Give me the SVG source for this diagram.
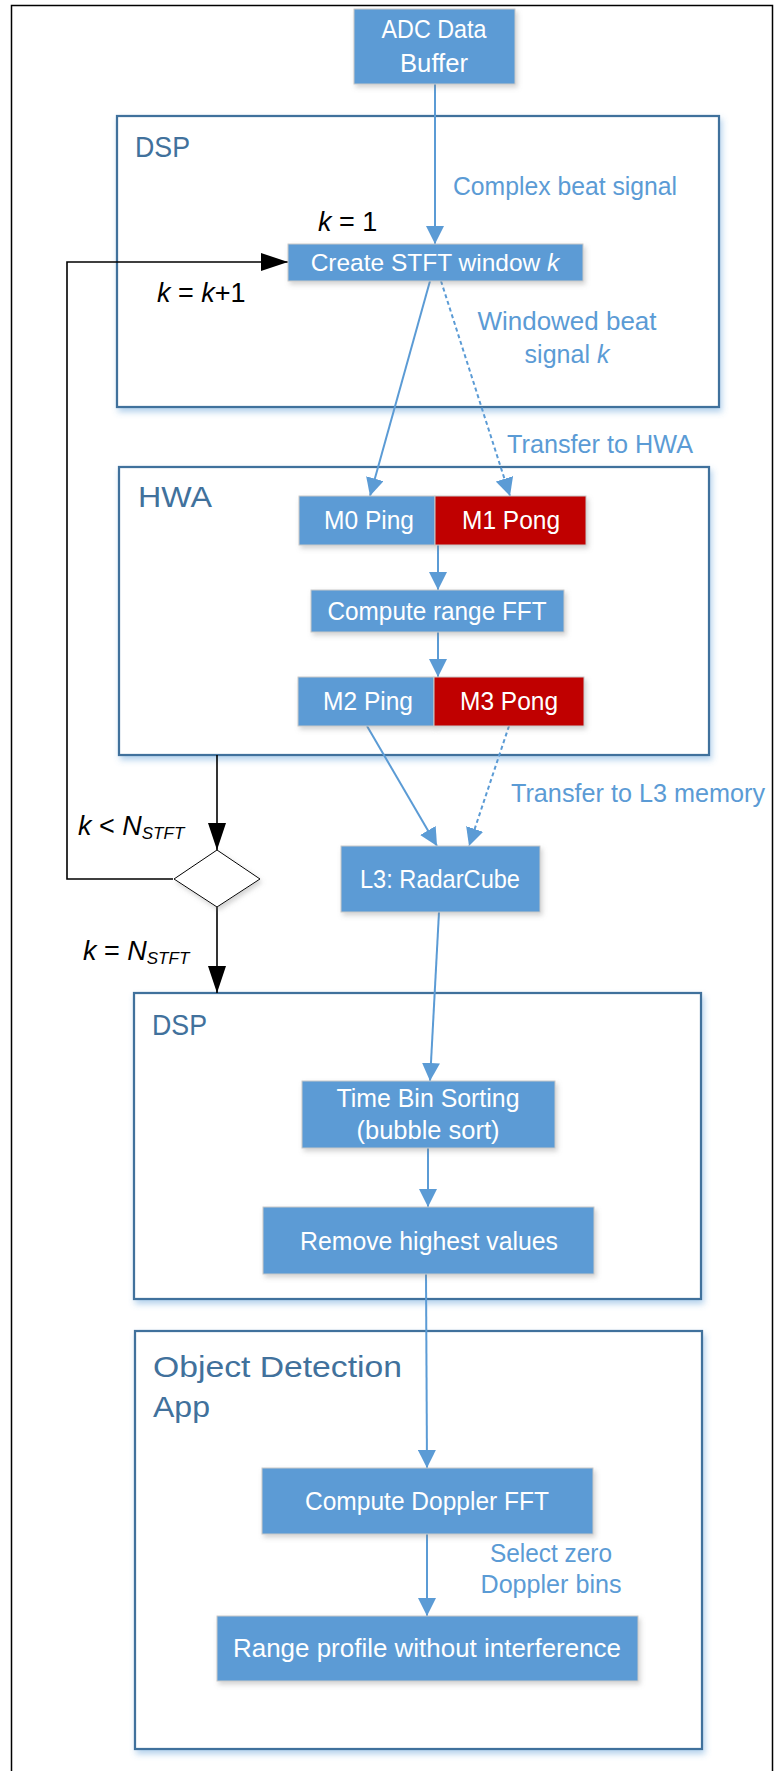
<svg xmlns="http://www.w3.org/2000/svg" width="774" height="1771" viewBox="0 0 774 1771">
<defs>
<style>
.cont{fill:#fff;stroke:#41719C;stroke-width:2.25;filter:url(#cs)}
.title{font-family:"Liberation Sans",Arial,sans-serif;font-size:30px;fill:#41719C}
.box{fill:#5B9BD5;stroke:#C9C9C9;stroke-width:1;filter:url(#ns)}
.red{fill:#C00000;stroke:#C9C9C9;stroke-width:1;filter:url(#ns)}
.bt{font-family:"Liberation Sans",Arial,sans-serif;font-size:25px;fill:#fff;text-anchor:middle}
.lbl{font-family:"Liberation Sans",Arial,sans-serif;font-size:25px;fill:#5B9BD5}
.math{font-family:"Liberation Sans",Arial,sans-serif;font-size:27px;fill:#000}
.it{font-style:italic}
.sub{font-size:17px;font-style:italic}
.bl{fill:none;stroke:#5B9BD5;stroke-width:2;marker-end:url(#ab)}
.bd{fill:none;stroke:#5B9BD5;stroke-width:2;stroke-dasharray:4 3;marker-end:url(#ab)}
.kl{fill:none;stroke:#000;stroke-width:1.6}
.ka{fill:none;stroke:#000;stroke-width:1.6;marker-end:url(#ak)}
</style>
<filter id="cs" x="-5%" y="-5%" width="112%" height="115%"><feDropShadow dx="2" dy="4" stdDeviation="3" flood-color="#5B9BD5" flood-opacity="0.45"/></filter>
<filter id="ns" x="-10%" y="-20%" width="125%" height="150%"><feDropShadow dx="2" dy="3" stdDeviation="2.5" flood-color="#808080" flood-opacity="0.35"/></filter>
<marker id="ab" markerUnits="userSpaceOnUse" markerWidth="18" markerHeight="18" refX="18" refY="9" orient="auto"><path d="M0,0 L18,9 L0,18 z" fill="#5B9BD5"/></marker>
<marker id="ak" markerUnits="userSpaceOnUse" markerWidth="27" markerHeight="18" refX="27" refY="9" orient="auto"><path d="M0,0 L27,9 L0,18 z" fill="#000"/></marker>
</defs>
<rect width="774" height="1771" fill="#fff"/>
<path d="M11.5,1771 V5.5 H772.5 V1771" fill="none" stroke="#000" stroke-width="1.5"/>

<g id="dsp1">
<rect class="cont" x="117" y="116" width="602" height="291"/>
<text class="title" x="135" y="157" textLength="55" lengthAdjust="spacingAndGlyphs">DSP</text>
</g>
<g id="hwa">
<rect class="cont" x="119" y="467" width="590" height="288"/>
<text class="title" x="138" y="507" textLength="74" lengthAdjust="spacingAndGlyphs">HWA</text>
</g>
<g id="dsp2">
<rect class="cont" x="134" y="993" width="567" height="306"/>
<text class="title" x="152" y="1035" textLength="55" lengthAdjust="spacingAndGlyphs">DSP</text>
</g>
<g id="oda">
<rect class="cont" x="135" y="1331" width="567" height="418"/>
<text class="title" x="153" y="1377" textLength="249" lengthAdjust="spacingAndGlyphs">Object Detection</text>
<text class="title" x="153" y="1417" textLength="57" lengthAdjust="spacingAndGlyphs">App</text>
</g>

<g id="connectors">
<path class="bl" d="M435,84 V244"/>
<path class="bl" d="M430,281 L370,496"/>
<path class="bd" d="M441,281 L510,496"/>
<path class="bl" d="M438,545 V590"/>
<path class="bl" d="M438,632 V677"/>
<path class="bl" d="M367,726 L437,846"/>
<path class="bd" d="M509,726 L469,846"/>
<path class="bl" d="M439,912 L430,1081"/>
<path class="bl" d="M428,1148 V1207"/>
<path class="bl" d="M426,1274 L427,1468"/>
<path class="bl" d="M427,1534 V1616"/>
<path class="ka" d="M217,755 V850"/>
<path class="ka" d="M217,907 V993"/>
<path class="ka" d="M173,879 H67 V262 H288"/>
<text class="lbl" x="453" y="195" textLength="224" lengthAdjust="spacingAndGlyphs">Complex beat signal</text>
<text class="lbl" x="567" y="330" text-anchor="middle" textLength="179" lengthAdjust="spacingAndGlyphs">Windowed beat</text>
<text class="lbl" x="567" y="363" text-anchor="middle">signal <tspan class="it">k</tspan></text>
<text class="lbl" x="507" y="453" textLength="186" lengthAdjust="spacingAndGlyphs">Transfer to HWA</text>
<text class="lbl" x="511" y="802" textLength="254" lengthAdjust="spacingAndGlyphs">Transfer to L3 memory</text>
<text class="lbl" x="551" y="1562" text-anchor="middle" textLength="122" lengthAdjust="spacingAndGlyphs">Select zero</text>
<text class="lbl" x="551" y="1593" text-anchor="middle" textLength="141" lengthAdjust="spacingAndGlyphs">Doppler bins</text>
<text class="math" x="318" y="231"><tspan class="it">k</tspan> = 1</text>
<text class="math" x="157" y="302"><tspan class="it">k</tspan> = <tspan class="it">k</tspan>+1</text>
<text class="math" x="78" y="835"><tspan class="it">k</tspan> &lt; <tspan class="it">N</tspan><tspan class="sub" dy="4">STFT</tspan></text>
<text class="math" x="83" y="960"><tspan class="it">k</tspan> = <tspan class="it">N</tspan><tspan class="sub" dy="4">STFT</tspan></text>
</g>

<g id="adc">
<rect class="box" x="354" y="9" width="161" height="75"/>
<text class="bt" x="434" y="38" textLength="105" lengthAdjust="spacingAndGlyphs">ADC Data</text>
<text class="bt" x="434" y="72" textLength="68" lengthAdjust="spacingAndGlyphs">Buffer</text>
</g>
<g id="stft">
<rect class="box" x="288" y="244" width="295" height="37"/>
<text class="bt" x="435" y="271" style="font-size:24.5px">Create STFT window <tspan class="it">k</tspan></text>
</g>
<g id="m0">
<rect class="box" x="299" y="496" width="136" height="49"/>
<text class="bt" x="369" y="529" textLength="90" lengthAdjust="spacingAndGlyphs">M0 Ping</text>
</g>
<g id="m1">
<rect class="red" x="435" y="496" width="151" height="49"/>
<text class="bt" x="511" y="529" textLength="98" lengthAdjust="spacingAndGlyphs">M1 Pong</text>
</g>
<g id="rangefft">
<rect class="box" x="311" y="590" width="253" height="42"/>
<text class="bt" x="437" y="620" textLength="219" lengthAdjust="spacingAndGlyphs">Compute range FFT</text>
</g>
<g id="m2">
<rect class="box" x="298" y="677" width="136" height="49"/>
<text class="bt" x="368" y="710" textLength="90" lengthAdjust="spacingAndGlyphs">M2 Ping</text>
</g>
<g id="m3">
<rect class="red" x="434" y="677" width="150" height="49"/>
<text class="bt" x="509" y="710" textLength="98" lengthAdjust="spacingAndGlyphs">M3 Pong</text>
</g>
<g id="decision">
<polygon points="217,850 260,879 217,907 174,879" fill="#fff" stroke="#000" stroke-width="1" filter="url(#ns)"/>
</g>
<g id="l3">
<rect class="box" x="341" y="846" width="199" height="66"/>
<text class="bt" x="440" y="888" textLength="160" lengthAdjust="spacingAndGlyphs">L3: RadarCube</text>
</g>
<g id="sort">
<rect class="box" x="302" y="1081" width="253" height="67"/>
<text class="bt" x="428" y="1107" textLength="183" lengthAdjust="spacingAndGlyphs">Time Bin Sorting</text>
<text class="bt" x="428" y="1139" textLength="143" lengthAdjust="spacingAndGlyphs">(bubble sort)</text>
</g>
<g id="remove">
<rect class="box" x="263" y="1207" width="331" height="67"/>
<text class="bt" x="429" y="1250" textLength="258" lengthAdjust="spacingAndGlyphs">Remove highest values</text>
</g>
<g id="doppler">
<rect class="box" x="262" y="1468" width="331" height="66"/>
<text class="bt" x="427" y="1510" textLength="244" lengthAdjust="spacingAndGlyphs">Compute Doppler FFT</text>
</g>
<g id="rangeprofile">
<rect class="box" x="217" y="1616" width="421" height="65"/>
<text class="bt" x="427" y="1657" textLength="388" lengthAdjust="spacingAndGlyphs">Range profile without interference</text>
</g>
</svg>
